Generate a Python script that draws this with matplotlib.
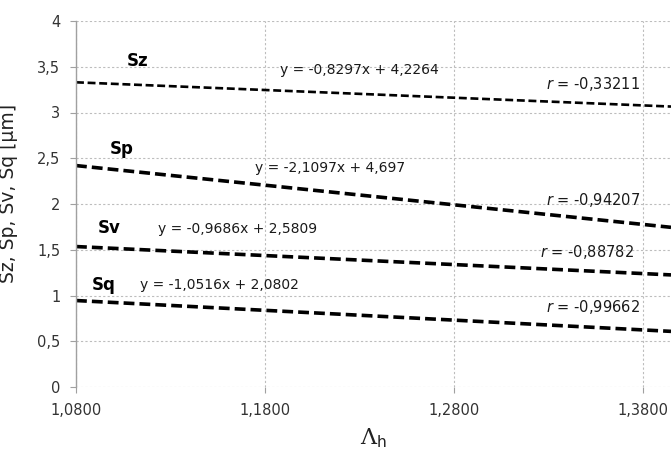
import matplotlib
matplotlib.use("Agg")
import matplotlib.pyplot as plt
from matplotlib.ticker import FuncFormatter

series = ["Sz", "Sp", "Sv", "Sq"]
x_ends = [1.08, 1.395]
y_left = [3.33, 2.42, 1.535, 0.945]
y_right = [3.065, 1.745, 1.225, 0.608]
equations = ["y = -0,8297x + 4,2264", "y = -2,1097x + 4,697",
             "y = -0,9686x + 2,5809", "y = -1,0516x + 2,0802"]
r_values = ["-0,33211", "-0,94207", "-0,88782", "-0,99662"]

x_ticks = [1.08, 1.18, 1.28, 1.38]
y_ticks = [0, 0.5, 1, 1.5, 2, 2.5, 3, 3.5, 4]

# text positions (data units)
name_pos = [(1.107, 3.56), (1.098, 2.60), (1.0916, 1.74), (1.0885, 1.12)]
eq_pos = [(1.188, 3.46), (1.175, 2.39), (1.1234, 1.73), (1.1139, 1.11)]
r_pos = [(1.3784, 3.31), (1.3784, 2.04), (1.3755, 1.48), (1.3784, 0.87)]
widths = [1.9, 2.6, 2.6, 2.6]

plt.rcParams['font.family'] = ['DejaVu Sans']
plt.rcParams['mathtext.fontset'] = 'custom'
plt.rcParams['mathtext.rm'] = 'DejaVu Serif'
plt.rcParams['mathtext.it'] = 'DejaVu Sans:italic'
plt.rcParams['mathtext.sf'] = 'DejaVu Sans'

fig = plt.figure(figsize=(6.71, 4.51), dpi=100)
ax = fig.add_axes([76 / 671, 64 / 451, 595 / 671, 366 / 451])

for i, name in enumerate(series):
    ax.plot(x_ends, [y_left[i], y_right[i]], color='black', lw=widths[i],
            linestyle=(0, (3, 1.4)), dash_capstyle='butt')
    ax.text(*name_pos[i], name, fontsize=12, fontweight='bold', ha='left', va='center')
    ax.text(*eq_pos[i], equations[i], fontsize=10, ha='left', va='center', color='#1a1a1a')
    ax.text(*r_pos[i], r'$\mathit{r}$ = ' + r_values[i], fontsize=10.5, ha='right',
            va='center', color='#1a1a1a')

ax.set_xlim(1.08, 1.395)
ax.set_ylim(0, 4)
ax.set_xticks(x_ticks)
ax.set_yticks(y_ticks)
ax.xaxis.set_major_formatter(FuncFormatter(lambda v, p: f"{v:.4f}".replace('.', ',')))
ax.yaxis.set_major_formatter(FuncFormatter(lambda v, p: f"{v:g}".replace('.', ',')))
ax.tick_params(axis='both', direction='out', length=4.3, width=0.8, color='#a0a0a0',
               labelsize=10.5, labelcolor='#333333')
ax.tick_params(axis='y', pad=7)
ax.tick_params(axis='x', pad=7)

ax.grid(True, color='#bdbdbd', linestyle=(0, (2, 2)), linewidth=0.8)
ax.set_axisbelow(True)
for side in ['top', 'right', 'bottom']:
    ax.spines[side].set_visible(False)
ax.spines['left'].set_color('#a0a0a0')
ax.spines['left'].set_linewidth(1)

ax.set_xlabel(r'$\Lambda_\mathsf{h}$', fontsize=16, color='#222222', labelpad=6)
ax.set_ylabel('Sz, Sp, Sv, Sq [µm]', fontsize=13.5, color='#222222')
ax.yaxis.set_label_coords(-58 / 595, 0.53)

fig.savefig("out.png", dpi=100)
